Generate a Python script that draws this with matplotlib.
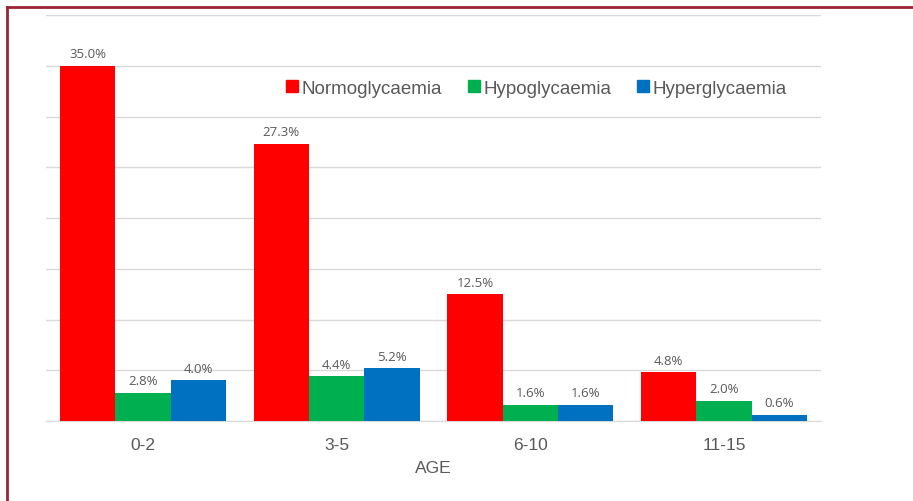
import matplotlib
matplotlib.use("Agg")
import matplotlib.pyplot as plt
import numpy as np
from matplotlib.lines import Line2D

categories = ["0-2", "3-5", "6-10", "11-15"]
series_names = ["Normoglycaemia", "Hypoglycaemia", "Hyperglycaemia"]
normo = [35.0, 27.3, 12.5, 4.8]
hypo = [2.8, 4.4, 1.6, 2.0]
hyper = [4.0, 5.2, 1.6, 0.6]
colors = ["#FF0000", "#00B050", "#0070C0"]

fig = plt.figure(figsize=(9.13, 5.02), dpi=100)
ax = fig.add_axes([46/913, 80/502, (821-46)/913, (422-16)/502])

x = np.arange(len(categories))
w = 0.2857
text_col = "#595959"
for i, (vals, c, name) in enumerate(zip([normo, hypo, hyper], colors, series_names)):
    pos = x + (i - 1) * w
    bars = ax.bar(pos, vals, width=w, color=c, label=name, zorder=3, linewidth=0)
    for p, v in zip(pos, vals):
        ax.annotate(f"{v:.1f}%", (p, v), xytext=(0, 4), textcoords="offset points",
                    ha="center", va="bottom", fontsize=9.5, color=text_col,
                    family="Open Sans")

ax.set_xlim(-0.5, 3.5)
ax.set_ylim(0, 40)
ax.set_yticks(np.arange(0, 41, 5))
ax.yaxis.grid(True, color="#D9D9D9", linewidth=1, zorder=0)
ax.tick_params(axis="y", left=False, labelleft=False)
ax.tick_params(axis="x", bottom=False, labelsize=12.5, labelcolor=text_col, pad=8)
ax.set_xticks(x)
ax.set_xticklabels(categories, family="Liberation Sans")
for s in ["top", "right", "left"]:
    ax.spines[s].set_visible(False)
ax.spines["bottom"].set_color("#D9D9D9")
ax.set_xlabel("AGE", fontsize=12.5, color=text_col, family="Liberation Sans", labelpad=6)

handles = [Line2D([0], [0], marker="s", linestyle="none", markersize=8,
                  markerfacecolor=c, markeredgecolor=c) for c in colors]
leg = ax.legend(handles, series_names, loc="center", bbox_to_anchor=((536-46)/775, (422-89)/406),
                ncol=3, frameon=False, handletextpad=0.1, columnspacing=1.3,
                prop={"family": "Liberation Sans", "size": 13.5}, handlelength=0.8)
for t in leg.get_texts():
    t.set_color(text_col)

# border
fig.add_artist(Line2D([7/913, 7/913], [0, 1 - 8/502], transform=fig.transFigure,
                      color="#9B2335", linewidth=2))
fig.add_artist(Line2D([7/913, 1], [1 - 8/502, 1 - 8/502], transform=fig.transFigure,
                      color="#9B2335", linewidth=2))

fig.savefig("out.png", dpi=100)
